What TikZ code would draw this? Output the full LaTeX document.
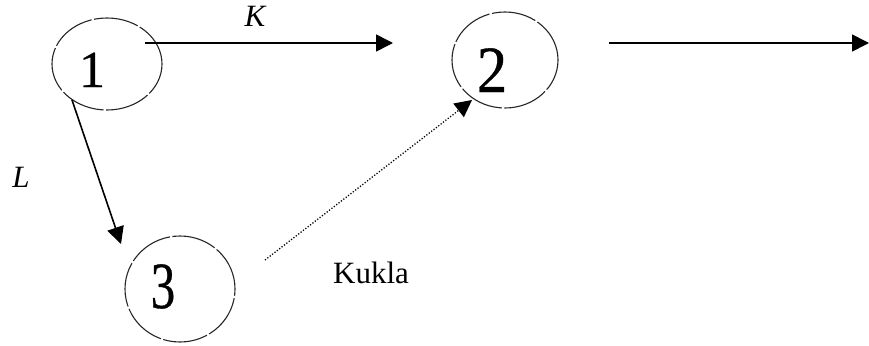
\documentclass[tikz,border=0pt]{standalone}
\usepackage{fontspec}
\setmainfont{Liberation Serif}
\newfontfamily\digitfont[BoldFont={Liberation Serif},BoldFeatures={FakeBold=0.6}]{Liberation Serif}
\usetikzlibrary{shapes.geometric,arrows.meta}
\begin{document}
\begin{tikzpicture}[x=1pt,y=-1pt,
  state/.style={draw=black!85,line width=1.1pt,ellipse,inner sep=0pt,
    dash pattern=on 45pt off 2.5pt},
  link/.style={line width=1.6pt,-{Triangle[length=17pt,width=17pt]}},
  dotlink/.style={line width=1.3pt,dash pattern=on 1.2pt off 1.8pt,
    -{Triangle[length=17pt,width=17pt]}},
  digit/.style={inner sep=0pt,font=\digitfont\bfseries\fontsize{66}{66}\selectfont},
  tag/.style={inner sep=0pt,font=\fontsize{31}{31}\selectfont}]
\useasboundingbox (0,0) rectangle (869,345);
% states
\node[state,minimum width=110pt,minimum height=92pt] (e1) at (107,64) {};
\node[state,minimum width=106pt,minimum height=96pt] (e2) at (505,60) {};
\node[state,minimum width=110pt,minimum height=106pt] (e3) at (180,289) {};
\node[digit,anchor=base,font=\digitfont\bfseries\fontsize{52}{52}\selectfont] (d1) at (92,87) {1};
\node[digit,anchor=base,xscale=0.92] (d2) at (492,92) {2};
\node[digit,anchor=base,xscale=0.74] (d3) at (163,308) {3};
% arrow end points
\coordinate (k0) at (145,43);
\coordinate (k1) at (393,43);
\coordinate (r0) at (609,43);
\coordinate (r1) at (869,43);
\coordinate (l0) at (72,100);
\coordinate (l1) at (121,244);
\coordinate (m0) at (265,260);
\coordinate (m1) at (472,100);
% connectors
\draw[link] (k0) -- (k1);
\draw[link] (r0) -- (r1);
\draw[link] (l0) -- (l1);
\draw[dotlink] (m0) -- (m1);
% labels
\node[tag,anchor=base] (lk) at (255,27) {\itshape K};
\node[tag,anchor=base] (ll) at (21,187) {\itshape L};
\node[tag,anchor=base west] (lm) at (333,283) {Kukla};
\end{tikzpicture}
\end{document}
